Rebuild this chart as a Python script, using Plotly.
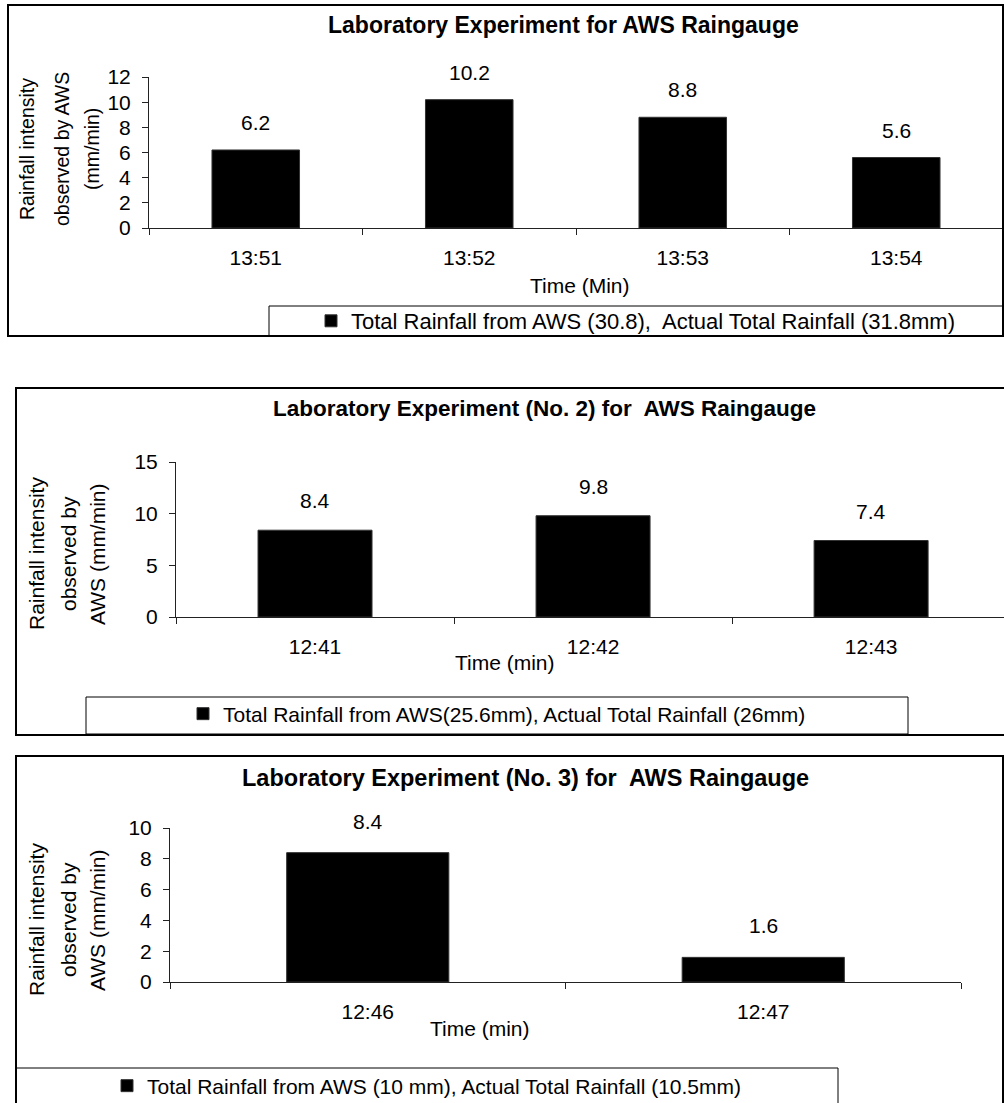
import plotly.graph_objects as go

# ---------------- data ----------------
times1 = ["13:51", "13:52", "13:53", "13:54"]
rain1 = [6.2, 10.2, 8.8, 5.6]
times2 = ["12:41", "12:42", "12:43"]
rain2 = [8.4, 9.8, 7.4]
times3 = ["12:46", "12:47"]
rain3 = [8.4, 1.6]

titles = [
    "Laboratory Experiment for AWS Raingauge",
    "Laboratory Experiment (No. 2) for  AWS Raingauge",
    "Laboratory Experiment (No. 3) for  AWS Raingauge",
]
legend_names = [
    "Total Rainfall from AWS (30.8),  Actual Total Rainfall (31.8mm)",
    "Total Rainfall from AWS(25.6mm), Actual Total Rainfall (26mm)",
    "Total Rainfall from AWS (10 mm), Actual Total Rainfall (10.5mm)",
]
x_titles = ["Time (Min)", "Time (min)", "Time (min)"]
y_title_lines = [
    ["Rainfall intensity", "observed by AWS", "(mm/min)"],
    ["Rainfall intensity", "observed by", "AWS (mm/min)"],
    ["Rainfall intensity", "observed by", "AWS (mm/min)"],
]
y_ranges = [[0, 12], [0, 15], [0, 10]]
y_dticks = [2, 5, 2]

# ---------------- layout helpers (pixel -> paper) ----------------
W, H = 1004, 1103
FONT = "Liberation Sans, Arial, sans-serif"


def px(x):
    return x / W


def py(y):
    return 1 - y / H


panels = [
    dict(cats=times1, vals=rain1,
         plot=(149, 1003, 77, 228), xrange=None,
         border=(8, 1003, 5, 336), legbox=(269, 1003, 306, 336), legy=321,
         title_xy=(563, 25), title_size=23,
         xt_xy=(580, 285), yt_x=(27, 62, 92), yt_y=149,
         fs=21, yfs=19.5, legfs=22, lab_shift=14),
    dict(cats=times2, vals=rain2,
         plot=(176, 1004, 462, 617), xrange=[-0.5, 2.478],
         border=(16, 1006, 388, 735), legbox=(86, 908, 697, 734), legy=714,
         title_xy=(544, 408), title_size=22.5,
         xt_xy=(505, 662), yt_x=(36, 68, 97), yt_y=554,
         fs=21, yfs=21, legfs=21, lab_shift=16),
    dict(cats=times3, vals=rain3,
         plot=(170, 961, 828, 982), xrange=None,
         border=(16, 1003, 756, 1200), legbox=(16, 838, 1068, 1200), legy=1086,
         title_xy=(525, 778), title_size=23.5,
         xt_xy=(480, 1028), yt_x=(36, 68, 97), yt_y=920,
         fs=21, yfs=21, legfs=21, lab_shift=18),
]

fig = go.Figure()
annotations = []
shapes = []

for i, p in enumerate(panels):
    n = i + 1
    xa = "x" if n == 1 else f"x{n}"
    ya = "y" if n == 1 else f"y{n}"
    lg = "legend" if n == 1 else f"legend{n}"
    x0, x1, ytop, ybot = p["plot"]

    fig.add_trace(go.Bar(
        x=p["cats"], y=p["vals"], name=legend_names[i],
        xaxis=xa, yaxis=ya, legend=lg, width=0.41,
        marker=dict(color="black", line=dict(color="#333333", width=1)),
        showlegend=True,
    ))

    # data labels above bars
    for c, v in zip(p["cats"], p["vals"]):
        annotations.append(dict(
            x=c, y=v, xref=xa, yref=ya, text=f"{v}", showarrow=False,
            yanchor="bottom", yshift=p["lab_shift"],
            font=dict(family=FONT, size=p["fs"], color="black"),
        ))

    xaxis = dict(
        domain=[px(x0), px(x1)], anchor=ya, type="category",
        showline=True, linecolor="#222222", linewidth=1,
        ticks="outside", ticklen=6, tickcolor="#222222", tickson="boundaries",
        ticklabelstandoff=11, showgrid=False, automargin=False,
        tickfont=dict(family=FONT, size=p["fs"], color="black"),
    )
    if p["xrange"] is not None:
        xaxis["range"] = p["xrange"]
    yaxis = dict(
        domain=[py(ybot), py(ytop)], anchor=xa, range=y_ranges[i],
        dtick=y_dticks[i], showline=True, linecolor="#222222", linewidth=1,
        ticks="outside", ticklen=6, tickcolor="#222222", showgrid=False,
        zeroline=False, ticklabelstandoff=7, automargin=False,
        tickfont=dict(family=FONT, size=p["fs"], color="black"),
    )
    fig.update_layout(**{("xaxis" if n == 1 else f"xaxis{n}"): xaxis,
                         ("yaxis" if n == 1 else f"yaxis{n}"): yaxis})

    # chart title
    tx, ty = p["title_xy"]
    annotations.append(dict(
        x=px(tx), y=py(ty), xref="paper", yref="paper", showarrow=False,
        text=f"<b>{titles[i]}</b>", xanchor="center", yanchor="middle",
        font=dict(family=FONT, size=p["title_size"], color="black"),
    ))
    # x axis title
    ax_, ay_ = p["xt_xy"]
    annotations.append(dict(
        x=px(ax_), y=py(ay_), xref="paper", yref="paper", showarrow=False,
        text=x_titles[i], xanchor="center", yanchor="middle",
        font=dict(family=FONT, size=p["fs"], color="black"),
    ))
    # y axis title lines
    for line, lx in zip(y_title_lines[i], p["yt_x"]):
        annotations.append(dict(
            x=px(lx), y=py(p["yt_y"]), xref="paper", yref="paper",
            showarrow=False, text=line, textangle=-90,
            xanchor="center", yanchor="middle",
            font=dict(family=FONT, size=p["yfs"], color="black"),
        ))

    # outer border
    bx0, bx1, by0, by1 = p["border"]
    shapes.append(dict(type="rect", xref="paper", yref="paper",
                       x0=px(bx0), x1=px(bx1), y0=py(by1), y1=py(by0),
                       line=dict(color="black", width=2)))
    # legend box
    lx0, lx1, ly0, ly1 = p["legbox"]
    shapes.append(dict(type="rect", xref="paper", yref="paper",
                       x0=px(lx0), x1=px(lx1), y0=py(ly1), y1=py(ly0),
                       line=dict(color="black", width=1)))
    fig.update_layout(**{lg: dict(
        x=px((lx0 + lx1) / 2), y=py(p["legy"]), xanchor="center",
        yanchor="middle", bgcolor="rgba(0,0,0,0)", borderwidth=0,
        font=dict(family=FONT, size=p["legfs"], color="black"),
        itemclick=False, itemdoubleclick=False,
    )})

fig.update_layout(
    width=W, height=H,
    margin=dict(l=0, r=0, t=0, b=0, pad=0, autoexpand=False),
    paper_bgcolor="white", plot_bgcolor="white",
    annotations=annotations, shapes=shapes, bargap=0.59,
    font=dict(family=FONT, color="black"),
)

fig.write_html(
    "out.html",
    config={"displayModeBar": False},
    post_script="document.body.style.margin='0';document.body.style.overflow='hidden';",
)
